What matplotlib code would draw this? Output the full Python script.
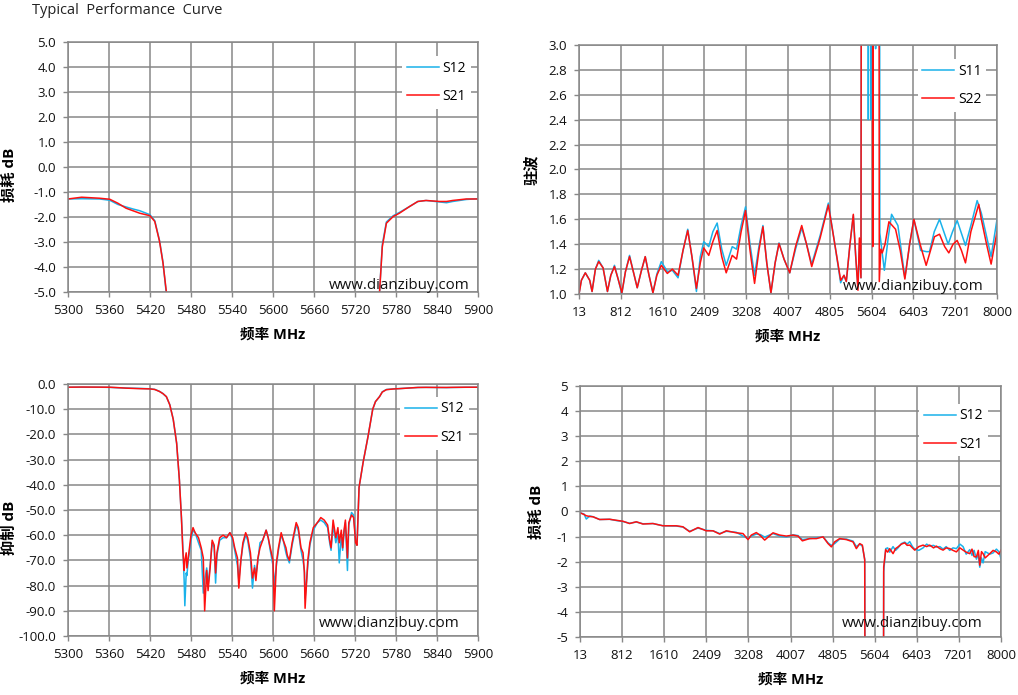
import matplotlib
matplotlib.use('Agg')

import matplotlib.pyplot as plt
import numpy as np

plt.rcParams['font.family'] = ['Open Sans', 'Noto Sans CJK SC', 'DejaVu Sans']
plt.rcParams['axes.unicode_minus'] = False

# ---------- 5300-5900 MHz 扫频 (上左 / 下左 共用) ----------
band_freq = [5300, 5320, 5346, 5361, 5373, 5385, 5395, 5405, 5420, 5427, 5434, 5439, 5444,
             5449, 5454, 5459, 5463, 5466, 5468, 5470, 5471, 5473, 5474, 5476, 5480, 5483,
             5486, 5491, 5495, 5498, 5500, 5503, 5505, 5508, 5511, 5514, 5516, 5518, 5522,
             5527, 5532, 5537, 5541, 5544, 5548, 5550, 5553, 5556, 5560, 5563, 5567, 5570,
             5573, 5575, 5578, 5581, 5585, 5590, 5593, 5596, 5600, 5602, 5605, 5608, 5612,
             5615, 5619, 5621, 5624, 5628, 5634, 5637, 5641, 5644, 5646, 5647, 5651, 5654,
             5659, 5665, 5670, 5675, 5680, 5683, 5685, 5688, 5692, 5695, 5697, 5700, 5702,
             5704, 5706, 5709, 5711, 5715, 5718, 5721, 5723, 5726, 5732, 5739, 5746, 5750,
             5756, 5760, 5766, 5776, 5785, 5800, 5812, 5824, 5844, 5854, 5863, 5883, 5900]
band_s21 = [-1.28, -1.21, -1.25, -1.29, -1.45, -1.65, -1.75, -1.85, -1.95, -2.18, -2.98, -3.84, -5.0,
            -8.3, -14, -23.5, -38, -53, -66, -74, -70, -67, -73, -69, -60, -57,
            -59, -61, -65, -69, -90, -74, -82, -73, -62, -64, -75, -67, -61,
            -60, -61, -59, -61, -65, -69, -81, -70, -63, -59, -61, -67, -77,
            -73, -78, -69, -65, -62, -58, -61, -65, -70, -90, -71, -65, -59,
            -62, -65, -68, -70, -63, -55, -57, -65, -67, -75, -89, -70, -63,
            -57, -55, -53, -54, -56, -62, -65, -54, -61, -57, -63, -58, -65,
            -58, -54, -69, -55, -52, -53, -63, -64, -41, -31, -21, -10, -7,
            -5.0, -3.2, -2.25, -1.98, -1.85, -1.58, -1.38, -1.34, -1.38, -1.38, -1.34, -1.28, -1.28]
band_s12 = [-1.28, -1.27, -1.28, -1.33, -1.50, -1.60, -1.68, -1.75, -1.91, -2.15, -2.95, -3.80, -5.1,
            -8.2, -14, -23.5, -38, -53, -64, -78, -88, -75, -76, -70, -62, -58,
            -59, -63, -66, -83, -78, -73, -80, -72, -63, -65, -79, -68, -62,
            -61, -61, -59, -62, -66, -72, -78, -70, -64, -60, -62, -69, -81,
            -72, -76, -70, -63, -62, -58, -61, -66, -72, -80, -72, -66, -60,
            -62, -67, -69, -71, -64, -56, -58, -66, -70, -74, -85, -72, -64,
            -58, -55, -54, -55, -57, -63, -66, -56, -63, -59, -71, -60, -66,
            -59, -55, -74, -56, -51, -52, -62, -64, -41, -31, -21, -10, -7,
            -5.0, -3.1, -2.20, -1.95, -1.82, -1.58, -1.38, -1.34, -1.40, -1.43, -1.38, -1.30, -1.27]

# ---------- 13-8000 MHz 驻波 ----------
vswr_freq_s11 = [13, 58, 133, 217, 262, 326, 389, 472, 556, 620, 690, 760, 831, 900, 978, 1050,
                 1125, 1200, 1278, 1350, 1425, 1500, 1585, 1700, 1796, 1905, 2000, 2090, 2170,
                 2256, 2330, 2396, 2492, 2570, 2652, 2740, 2825, 2940, 3023, 3110, 3195, 3280,
                 3367, 3450, 3527, 3600, 3680, 3760, 3834, 3930, 4039, 4150, 4268, 4360, 4459,
                 4620, 4777, 4900, 5012, 5076, 5120, 5190, 5254, 5300, 5343, 5370, 5400, 5440,
                 5535, 5541, 5560, 5585, 5592, 5610, 5680, 5700, 5745, 5760, 5800, 5847, 5920,
                 5985, 6106, 6170, 6239, 6330, 6411, 6540, 6650, 6710, 6800, 6901, 7066, 7150,
                 7238, 7397, 7500, 7620, 7700, 7887, 8000]
vswr_s11 = [1.00, 1.11, 1.17, 1.11, 1.02, 1.20, 1.27, 1.21, 1.02, 1.15, 1.23, 1.12, 1.00, 1.18, 1.31, 1.18,
            1.05, 1.18, 1.30, 1.15, 1.01, 1.16, 1.26, 1.18, 1.19, 1.13, 1.35, 1.52, 1.30,
            1.02, 1.30, 1.42, 1.38, 1.50, 1.57, 1.36, 1.23, 1.38, 1.36, 1.55, 1.70, 1.40,
            1.15, 1.38, 1.55, 1.25, 1.01, 1.25, 1.41, 1.28, 1.17, 1.36, 1.53, 1.40, 1.24,
            1.47, 1.73, 1.40, 1.09, 1.15, 1.10, 1.40, 1.63, 1.30, 1.05, 1.40, 1.13, 15,
            15, 2.40, 15, 15, 2.40, 15, 2.97, 15, 15, 1.49, 1.35, 1.19, 1.45,
            1.64, 1.55, 1.35, 1.13, 1.40, 1.60, 1.35, 1.34, 1.34, 1.50, 1.60, 1.40, 1.50,
            1.59, 1.39, 1.55, 1.75, 1.65, 1.30, 1.60]
vswr_freq_s22 = [13, 58, 133, 217, 262, 326, 389, 472, 556, 620, 690, 760, 831, 900, 978, 1050,
                 1125, 1200, 1278, 1350, 1425, 1500, 1585, 1700, 1796, 1905, 2000, 2090, 2170,
                 2256, 2330, 2396, 2492, 2570, 2652, 2740, 2825, 2940, 3023, 3110, 3195, 3280,
                 3367, 3450, 3527, 3600, 3680, 3760, 3834, 3930, 4039, 4150, 4268, 4360, 4459,
                 4620, 4777, 4900, 5012, 5076, 5120, 5190, 5254, 5300, 5343, 5370, 5400, 5434,
                 5610, 5625, 5640, 5730, 5750, 5780, 5807, 5860, 5934, 6061, 6150, 6239, 6330,
                 6411, 6530, 6646, 6805, 6901, 7000, 7079, 7160, 7238, 7320, 7397, 7500, 7651,
                 7700, 7800, 7887, 8000]
vswr_s22 = [1.00, 1.11, 1.17, 1.11, 1.02, 1.20, 1.26, 1.21, 1.02, 1.15, 1.22, 1.12, 1.01, 1.18, 1.30, 1.18,
            1.05, 1.18, 1.30, 1.15, 1.01, 1.15, 1.23, 1.165, 1.20, 1.15, 1.35, 1.51, 1.30,
            1.045, 1.25, 1.37, 1.31, 1.42, 1.51, 1.30, 1.17, 1.31, 1.28, 1.50, 1.67, 1.35,
            1.085, 1.35, 1.54, 1.25, 1.01, 1.25, 1.405, 1.28, 1.17, 1.38, 1.55, 1.40, 1.22,
            1.45, 1.715, 1.40, 1.11, 1.15, 1.10, 1.40, 1.64, 1.30, 1.03, 1.45, 1.13, 15,
            15, 1.38, 15, 15, 1.10, 1.36, 1.33, 1.40, 1.58, 1.52, 1.35, 1.12, 1.40,
            1.60, 1.40, 1.23, 1.46, 1.48, 1.38, 1.33, 1.40, 1.43, 1.35, 1.25, 1.50, 1.72,
            1.60, 1.40, 1.24, 1.50]

# ---------- 13-8000 MHz 损耗 ----------
il_freq = [13, 90, 133, 200, 260, 386, 576, 702, 829, 955, 1082, 1208, 1398, 1588, 1841, 1967,
           2094, 2252, 2410, 2537, 2663, 2790, 2979, 3106, 3201, 3264, 3359, 3435, 3517, 3675,
           3802, 3928, 4055, 4150, 4232, 4371, 4498, 4624, 4719, 4782, 4845, 4940, 5067, 5193,
           5256, 5320, 5370, 5415, 5440, 5600, 5752, 5775, 5813, 5850, 5889, 5952, 6000, 6047,
           6110, 6174, 6220, 6269, 6320, 6364, 6440, 6522, 6590, 6648, 6720, 6775, 6840, 6902,
           6960, 7028, 7090, 7154, 7220, 7281, 7340, 7407, 7450, 7490, 7534, 7570, 7597, 7630,
           7660, 7700, 7787, 7850, 7913, 7960, 8000]
il_s21 = [-0.05, -0.12, -0.17, -0.20, -0.21, -0.32, -0.31, -0.35, -0.39, -0.48, -0.41, -0.50, -0.48, -0.57, -0.57, -0.61,
          -0.81, -0.64, -0.77, -0.77, -0.90, -0.77, -0.85, -0.88, -1.12, -0.94, -0.84, -0.96, -1.14, -0.85,
          -0.94, -0.98, -0.94, -0.98, -1.17, -1.08, -1.08, -1.01, -1.28, -1.41, -1.21, -1.08, -1.12, -1.21,
          -1.48, -1.28, -1.34, -1.94, -30, -40, -30, -2.21, -1.52, -1.62, -1.48, -1.68, -1.48, -1.41,
          -1.30, -1.25, -1.35, -1.34, -1.45, -1.54, -1.40, -1.34, -1.40, -1.34, -1.45, -1.38, -1.48, -1.54,
          -1.45, -1.48, -1.55, -1.61, -1.45, -1.54, -1.62, -1.68, -1.50, -1.80, -1.81, -1.55, -2.14, -1.60,
          -1.68, -1.85, -1.68, -1.55, -1.61, -1.70, -1.54]
il_s12 = [-0.05, -0.10, -0.30, -0.18, -0.21, -0.32, -0.31, -0.36, -0.40, -0.47, -0.42, -0.49, -0.48, -0.57, -0.58, -0.62,
          -0.79, -0.66, -0.75, -0.77, -0.88, -0.79, -0.83, -0.98, -1.08, -0.98, -0.90, -0.92, -1.02, -0.88,
          -0.98, -1.02, -0.93, -0.96, -1.12, -1.08, -1.05, -1.01, -1.25, -1.35, -1.28, -1.10, -1.10, -1.18,
          -1.40, -1.30, -1.38, -1.90, -30, -40, -30, -2.40, -1.48, -1.45, -1.62, -1.40, -1.55, -1.45,
          -1.28, -1.22, -1.30, -1.20, -1.40, -1.50, -1.55, -1.45, -1.30, -1.38, -1.35, -1.42, -1.40, -1.50,
          -1.40, -1.55, -1.45, -1.48, -1.30, -1.40, -1.70, -1.52, -1.75, -1.55, -1.90, -1.70, -2.22, -1.85,
          -2.05, -1.60, -1.70, -1.65, -1.50, -1.60, -1.88]

wide_ticks = [13, 812, 1610, 2409, 3208, 4007, 4805, 5604, 6403, 7201, 8000]
band_ticks = [5300, 5360, 5420, 5480, 5540, 5600, 5660, 5720, 5780, 5840, 5900]

CYAN = '#1AB2EA'
RED = '#FF1010'
GRID = '#878787'
WATERMARK = 'www.dianzibuy.com'


def style_axes(ax, xticks, yticks, yfmt, ylabel, ylab_x, ylab_y, leg_anchor, wm_xy):
    ax.set_xlim(xticks[0], xticks[-1])
    ax.set_ylim(yticks[0], yticks[-1])
    ax.set_xticks(xticks)
    ax.set_xticklabels([str(t) for t in xticks])
    ax.set_yticks(yticks)
    ax.set_yticklabels([yfmt.format(t) for t in yticks])
    ax.set_axisbelow(True)
    ax.grid(True, color=GRID, linewidth=1.1)
    for sp in ax.spines.values():
        sp.set_color(GRID)
        sp.set_linewidth(1.1)
    ax.tick_params(axis='both', direction='out', length=3.5, width=1.0, color=GRID,
                   labelsize=9.5, labelcolor='#111111', pad=5)
    ax.set_xlabel('频率 MHz', fontsize=10.5, fontweight='bold')
    ax.xaxis.set_label_coords(0.5, -0.142)
    ax.set_ylabel(ylabel, fontsize=11, fontweight='bold')
    ax.yaxis.set_label_coords(ylab_x, ylab_y)
    leg = ax.legend(loc='upper left', bbox_to_anchor=leg_anchor, frameon=True,
                    fontsize=10, handlelength=2.3, handletextpad=0.25,
                    labelspacing=0.95, borderpad=0.35, borderaxespad=0)
    leg.get_frame().set_facecolor('white')
    leg.get_frame().set_edgecolor('none')
    leg.get_frame().set_alpha(1)
    leg.get_frame().set_boxstyle('square', pad=0)
    ax.text(wm_xy[0], wm_xy[1], WATERMARK, transform=ax.transAxes, ha='right',
            va='center', fontsize=10.8, color='#111111')


fig = plt.figure(figsize=(10.18, 6.95), dpi=100)
fig.patch.set_facecolor('white')

ax1 = fig.add_axes([0.0668, 0.5799, 0.4027, 0.3597])
ax2 = fig.add_axes([0.5688, 0.5770, 0.4106, 0.3583])
ax3 = fig.add_axes([0.0668, 0.0849, 0.4027, 0.3626])
ax4 = fig.add_axes([0.5697, 0.0835, 0.4136, 0.3611])

# 上左: 通带损耗
ax1.plot(band_freq, band_s12, color=CYAN, linewidth=1.1, label='S12')
ax1.plot(band_freq, band_s21, color=RED, linewidth=1.1, label='S21')
style_axes(ax1, band_ticks, list(np.arange(-5, 5.01, 1.0)), '{:.1f}', '损耗 dB',
           -0.124, 0.47, (0.815, 0.945), (0.98, 0.026))

# 上右: 驻波
ax2.plot(vswr_freq_s11, vswr_s11, color=CYAN, linewidth=1.1, label='S11')
ax2.plot(vswr_freq_s22, vswr_s22, color=RED, linewidth=1.1, label='S22')
style_axes(ax2, wide_ticks, list(np.round(np.arange(1.0, 3.01, 0.2), 1)), '{:.1f}', '驻波',
           -0.096, 0.5, (0.81, 0.945), (0.967, 0.032))

# 下左: 抑制
ax3.plot(band_freq, band_s12, color=CYAN, linewidth=1.1, label='S12')
ax3.plot(band_freq, band_s21, color=RED, linewidth=1.1, label='S21')
style_axes(ax3, band_ticks, list(np.arange(-100, 0.1, 10.0)), '{:.1f}', '抑制 dB',
           -0.124, 0.43, (0.81, 0.95), (0.956, 0.048))

# 下右: 宽带损耗
ax4.plot(il_freq, il_s12, color=CYAN, linewidth=1.1, label='S12')
ax4.plot(il_freq, il_s21, color=RED, linewidth=1.1, label='S21')
style_axes(ax4, wide_ticks, list(range(-5, 6)), '{:d}', '损耗 dB',
           -0.086, 0.5, (0.805, 0.93), (0.957, 0.052))

fig.text(0.031, 1 - 10 / 695, 'Typical  Performance  Curve', fontsize=10.5, va='center',
         ha='left', color='#222222')

fig.savefig('out.png', dpi=100, facecolor='white')
